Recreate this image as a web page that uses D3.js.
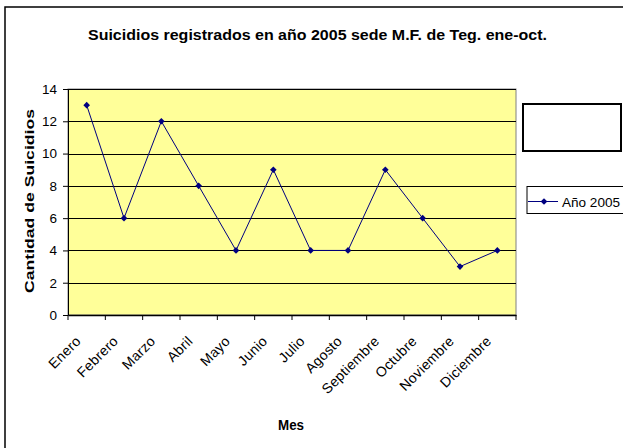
<!DOCTYPE html>
<html><head><meta charset="utf-8">
<script src="https://cdn.jsdelivr.net/npm/d3@7"></script>
<style>body{margin:0;background:#fff}svg{display:block;font-family:"Liberation Sans",Arial,sans-serif}</style>
</head><body>
<svg id="c" width="623" height="448"></svg>
<script>
const months = ["Enero","Febrero","Marzo","Abril","Mayo","Junio","Julio","Agosto","Septiembre","Octubre","Noviembre","Diciembre"];
const values2005 = [13,6,12,8,4,9,4,4,9,6,3,4];
const yTicks = [0,2,4,6,8,10,12,14];
const seriesName = "Año 2005";
const title = "Suicidios registrados en año 2005 sede M.F. de Teg. ene-oct.";

const svg = d3.select("#c");
// outer frame
svg.append("rect").attr("x",5).attr("y",7).attr("width",630).attr("height",450)
  .attr("fill","#fff").attr("stroke","#000").attr("stroke-width",1.5);

const L=68,R=516,T=89,B=315;
const x = d3.scaleBand().domain(months).range([L,R]);
const y = d3.scaleLinear().domain([0,14]).range([B,T]);

svg.append("rect").attr("x",L).attr("y",T).attr("width",R-L).attr("height",B-T)
  .attr("fill","#FFFF99").attr("stroke","#808080").attr("stroke-width",1);

// gridlines
svg.append("g").selectAll("line").data(yTicks.filter(d=>d>0)).join("line")
  .attr("x1",L).attr("x2",R).attr("y1",d=>Math.round(y(d))+0.5).attr("y2",d=>Math.round(y(d))+0.5)
  .attr("stroke","#000").attr("stroke-width",1);

// y axis
const ya = svg.append("g").attr("transform",`translate(${L},0)`)
  .call(d3.axisLeft(y).tickValues(yTicks).tickSize(5).tickSizeOuter(0));
ya.attr("font-size",13.5);
ya.select(".domain").attr("stroke","#000");
ya.selectAll("text").attr("font-size",13.5).attr("fill","#000").attr("font-family","Liberation Sans, Arial").attr("x",-11);

// x axis
const xa = svg.append("g").attr("transform",`translate(0,${B})`)
  .call(d3.axisBottom(x).tickSize(0).tickFormat(""));
xa.select(".domain").attr("stroke","#000").attr("stroke-width",1.5);
svg.append("g").selectAll("line").data(d3.range(months.length+1)).join("line")
  .attr("x1",i=>L+i*x.step()).attr("x2",i=>L+i*x.step()).attr("y1",B).attr("y2",B+5)
  .attr("stroke","#000");
svg.append("g").attr("font-size",14).selectAll("text").data(months).join("text")
  .attr("transform",d=>`translate(${x(d)+x.bandwidth()/2-5},${B+27}) rotate(-45)`)
  .attr("text-anchor","end").attr("font-size",14).attr("letter-spacing",0.3).attr("fill","#000").text(d=>d);

// line
const pts = months.map((m,i)=>[x(m)+x.bandwidth()/2, y(values2005[i])]);
svg.append("path").attr("d",d3.line()(pts)).attr("fill","none").attr("stroke","#000080").attr("stroke-width",1);
const sym = d3.symbol().type(d3.symbolDiamond2).size(28);
svg.append("g").selectAll("path").data(pts).join("path")
  .attr("transform",d=>`translate(${d[0]},${d[1]})`).attr("d",sym).attr("fill","#000080");

// titles
svg.append("text").attr("x",88).attr("y",40)
  .attr("font-size",15).attr("font-weight","bold")
  .attr("textLength",459).attr("lengthAdjust","spacingAndGlyphs").text(title);
svg.append("text").attr("transform",`translate(34,293) rotate(-90)`)
  .attr("font-size",13.5).attr("font-weight","bold")
  .attr("textLength",184).attr("lengthAdjust","spacingAndGlyphs").text("Cantidad de Suicidios");
svg.append("text").attr("x",278).attr("y",430)
  .attr("font-size",14).attr("font-weight","bold")
  .attr("textLength",26).attr("lengthAdjust","spacingAndGlyphs").text("Mes");

// empty box
svg.append("rect").attr("x",523).attr("y",104).attr("width",98).attr("height",47)
  .attr("fill","#fff").attr("stroke","#000").attr("stroke-width",2);
// legend
svg.append("rect").attr("x",527).attr("y",186.5).attr("width",110).attr("height",27)
  .attr("fill","#fff").attr("stroke","#000").attr("stroke-width",1);
svg.append("line").attr("x1",528).attr("x2",558).attr("y1",201.5).attr("y2",201.5).attr("stroke","#000080");
svg.append("path").attr("transform","translate(544,201.5)").attr("d",sym).attr("fill","#000080");
svg.append("text").attr("x",562).attr("y",207).attr("font-size",13.5)
  .attr("textLength",58).attr("lengthAdjust","spacingAndGlyphs").text(seriesName);
</script>
</body></html>
